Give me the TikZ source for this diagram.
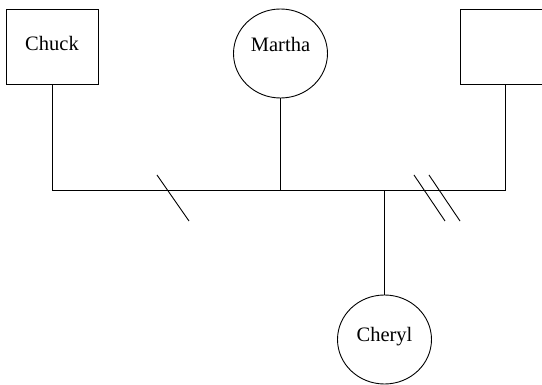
\documentclass[tikz,border=0pt]{standalone}
\usepackage{fontspec}
\setmainfont{Liberation Serif}
\usetikzlibrary{shapes.geometric}
\begin{document}
\begin{tikzpicture}[x=1pt,y=-1pt,
  line width=0.9pt,
  person/.style={draw, inner sep=0pt, font=\fontsize{20.5}{24}\selectfont},
  male/.style={person, rectangle, minimum width=92pt, minimum height=75pt},
  female/.style={person, ellipse, minimum width=94pt, minimum height=89pt},
  link/.style={draw},
  cut/.style={draw}]
  \useasboundingbox (0,0) rectangle (542,385);
  \clip (0,0) rectangle (542,385);

  % family members
  \node[male] (chuck) at (52,46.5) {\raisebox{7pt}{Chuck}};
  \node[female] (martha) at (280.5,53.5) {\raisebox{19pt}{Martha}};
  \node[male, minimum width=90pt] (other) at (505,47) {};
  \node[female] (cheryl) at (384.5,339.5) {\raisebox{11pt}{Cheryl}};

  % junctions on the horizontal line
  \coordinate (jl) at (52,190.5);
  \coordinate (jm) at (280.5,190.5);
  \coordinate (jc) at (384.5,190.5);
  \coordinate (jr) at (505,190.5);

  % relationship lines
  \draw[link] (chuck.south) -- (jl) -- (jr) -- (other.south);
  \draw[link] (martha.south) -- (jm);
  \draw[link] (jc) -- (cheryl.north);

  % separation / divorce marks
  \coordinate (s1a) at (157,175); \coordinate (s1b) at (189,221);
  \coordinate (s2a) at (414,175); \coordinate (s2b) at (445,221);
  \coordinate (s3a) at (429,175); \coordinate (s3b) at (460,221);
  \draw[cut] (s1a) -- (s1b);
  \draw[cut] (s2a) -- (s2b);
  \draw[cut] (s3a) -- (s3b);
\end{tikzpicture}
\end{document}
